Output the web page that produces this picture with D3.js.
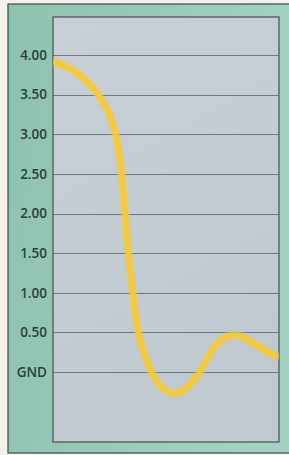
<!DOCTYPE html>
<html>
<head>
<meta charset="utf-8">
<script src="https://cdn.jsdelivr.net/npm/d3@7"></script>
<style>
  html, body { margin: 0; padding: 0; background: #f3f1ea; }
  svg { display: block; }
</style>
</head>
<body>
<div id="chart"></div>
<script>
// voltage levels shown on the left axis
const tickValues = [4, 3.5, 3, 2.5, 2, 1.5, 1, 0.5, 0];
const tickLabels = ["4.00", "3.50", "3.00", "2.50", "2.00", "1.50", "1.00", "0.50", "GND"];

// signal trace (time in arbitrary units, volts)
const traceTime = [0, 7.5, 13.3, 17.7, 20.8, 23.9, 26.1, 28.3, 29.2, 30.5, 31.9, 33.2, 35.4, 37.2, 39.8, 42.9, 46.5, 50.9, 54.9, 59.3, 63.7, 66.4, 70.8, 77, 82.7, 88.5, 94.7, 100];
const traceVolts = [3.92, 3.84, 3.72, 3.59, 3.47, 3.33, 3.18, 2.93, 2.8, 2.51, 2.02, 1.51, 1.01, 0.53, 0.28, 0.03, -0.16, -0.26, -0.28, -0.21, -0.06, 0.06, 0.32, 0.47, 0.47, 0.37, 0.25, 0.19];

function renderChart() {
  const width = 289;
  const height = 455;
  const frame = { left: 8, top: 4, right: 292, bottom: 453 };
  const plot = { left: 53, top: 17, right: 279, bottom: 442 };

  const svg = d3.select("#chart").append("svg")
    .attr("width", width)
    .attr("height", height);

  const defs = svg.append("defs");

  const plotGrad = defs.append("linearGradient")
    .attr("id", "plotGrad")
    .attr("x1", 0).attr("y1", 0).attr("x2", 0.3).attr("y2", 1);
  plotGrad.append("stop").attr("offset", "0%").attr("stop-color", "#c8d0d6");
  plotGrad.append("stop").attr("offset", "100%").attr("stop-color", "#bfc9cf");

  const frameGrad = defs.append("linearGradient")
    .attr("id", "frameGrad")
    .attr("x1", 0).attr("y1", 0).attr("x2", 1).attr("y2", 0.2);
  frameGrad.append("stop").attr("offset", "0%").attr("stop-color", "#8fc1af");
  frameGrad.append("stop").attr("offset", "100%").attr("stop-color", "#a3d2c2");

  const blur = defs.append("filter").attr("id", "soft");
  blur.append("feGaussianBlur").attr("stdDeviation", 0.8);

  // outer teal panel
  svg.append("rect")
    .attr("x", frame.left)
    .attr("y", frame.top)
    .attr("width", frame.right - frame.left)
    .attr("height", frame.bottom - frame.top)
    .attr("fill", "url(#frameGrad)")
    .attr("stroke", "#3b4a48")
    .attr("stroke-width", 1.2);

  // plot area
  svg.append("rect")
    .attr("x", plot.left)
    .attr("y", plot.top)
    .attr("width", plot.right - plot.left)
    .attr("height", plot.bottom - plot.top)
    .attr("fill", "url(#plotGrad)")
    .attr("stroke", "#44514f")
    .attr("stroke-width", 1.2);

  const x = d3.scaleLinear()
    .domain([0, 100])
    .range([plot.left, plot.right]);

  const y = d3.scaleLinear()
    .domain([0, 4])
    .range([372, 55]);

  // grid lines
  svg.append("g")
    .selectAll("line")
    .data(tickValues)
    .join("line")
    .attr("x1", plot.left)
    .attr("x2", plot.right)
    .attr("y1", d => Math.round(y(d)) + 0.5)
    .attr("y2", d => Math.round(y(d)) + 0.5)
    .attr("stroke", "#5f696b")
    .attr("stroke-opacity", 0.85)
    .attr("stroke-width", 1);

  // axis labels
  svg.append("g")
    .selectAll("text")
    .data(tickValues)
    .join("text")
    .attr("x", 47)
    .attr("y", d => y(d))
    .attr("dy", "0.36em")
    .attr("text-anchor", "end")
    .attr("font-family", "'Open Sans', sans-serif")
    .attr("font-weight", 600)
    .attr("font-size", 13.5)
    .attr("fill", "#29403e")
    .text((d, i) => tickLabels[i]);

  const points = traceTime.map((t, i) => [t, traceVolts[i]]);

  const line = d3.line()
    .x(d => x(d[0]))
    .y(d => y(d[1]))
    .curve(d3.curveBasis);

  svg.append("clipPath").attr("id", "plotClip")
    .append("rect")
    .attr("x", plot.left)
    .attr("y", plot.top)
    .attr("width", plot.right - plot.left)
    .attr("height", plot.bottom - plot.top);

  svg.append("path")
    .datum(points)
    .attr("clip-path", "url(#plotClip)")
    .attr("d", line)
    .attr("fill", "none")
    .attr("stroke", "#f4c93e")
    .attr("stroke-width", 7)
    .attr("stroke-linecap", "butt")
    .attr("stroke-linejoin", "round")
    .attr("filter", "url(#soft)");
}

renderChart();
</script>
</body>
</html>
